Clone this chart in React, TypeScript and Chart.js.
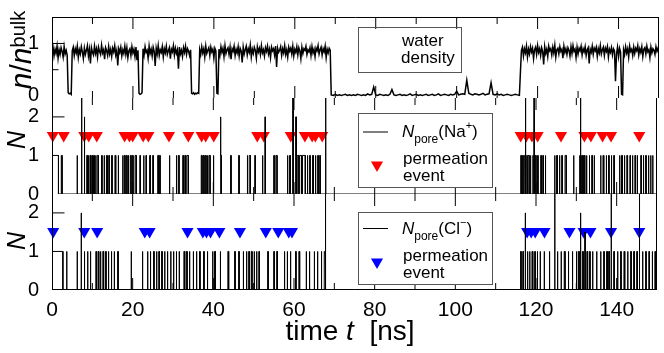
import React, { useEffect, useRef } from "react";
import { Chart, registerables } from "chart.js";

Chart.register(...registerables);

const FONT = "'Liberation Sans', Helvetica, Arial, sans-serif";

// ---------- axes ----------
const TIME_MIN = 0;
const TIME_MAX = 150;
const timeTicks = [0, 20, 40, 60, 80, 100, 120, 140];
const densityTicks = [0, 1];
const countTicks = [0, 1, 2];

// ---------- water density n/n_bulk : segments [start ns, sampling step ns, values] ----------
const densityA = [0.84, 0.93, 0.76, 0.89, 0.81, 0.95, 0.72, 0.88, 0.79, 0.92, 0.85, 0.74, 0.94, 0.8, 0.87, 0.78];
const densityDip1 = [0.06, 0.04, 0.05, 0.03];
const densityB = [
  0.86, 0.93, 0.77, 0.9, 0.82, 0.95, 0.73, 0.88, 0.8, 0.94,
  0.84, 0.71, 0.91, 0.79, 0.87, 0.96, 0.76, 0.89, 0.62, 0.92,
  0.83, 0.78, 0.95, 0.81, 0.9, 0.74, 0.93, 0.85, 0.79, 0.97,
  0.82, 0.88, 0.7, 0.92, 0.86, 0.77, 0.94, 0.8, 0.89, 0.75,
  0.91, 0.84, 0.96, 0.78, 0.87, 0.58, 0.9, 0.83, 0.93, 0.76,
  0.88, 0.81, 0.95, 0.79, 0.92, 0.73, 0.86, 0.9, 0.77, 0.94,
  0.82, 0.89, 0.75, 0.93, 0.68, 0.87,
];
const densityDip2 = [0.05, 0.03, 0.04, 0.06];
const densityC = [
  0.9, 0.78, 0.94, 0.83, 0.87, 0.72, 0.95, 0.81, 0.89, 0.76,
  0.93, 0.85, 0.57, 0.91, 0.8, 0.96, 0.77, 0.88, 0.83, 0.94,
  0.74, 0.9, 0.82, 0.95, 0.79, 0.86, 0.92, 0.71, 0.89, 0.84,
  0.96, 0.78, 0.91, 0.81, 0.88, 0.52, 0.93, 0.8, 0.87, 0.75,
  0.92, 0.83, 0.95, 0.79, 0.9, 0.85, 0.77, 0.88,
];
const densityDip3 = [0.05, 0.04, 0.06, 0.03, 0.05, 0.04, 0.06, 0.05];
const densityD = [0.88, 0.79, 0.94, 0.82, 0.9, 0.74, 0.95, 0.81, 0.87, 0.92, 0.77, 0.93, 0.84, 0.89, 0.72, 0.91, 0.86];
const densityDip4 = [0.05, 0.04];
const densityE = [
  0.89, 0.78, 0.94, 0.83, 0.91, 0.75, 0.96, 0.81, 0.88, 0.92,
  0.79, 0.93, 0.7, 0.9, 0.85, 0.95, 0.77, 0.89, 0.82, 0.94,
  0.76, 0.91, 0.86, 0.64, 0.93, 0.8, 0.88, 0.95, 0.78, 0.9,
  0.83, 0.97, 0.74, 0.89, 0.81, 0.93, 0.87, 0.72, 0.94, 0.84,
  0.91, 0.79, 0.96, 0.82, 0.88, 0.76, 0.92, 0.85, 0.95, 0.8,
  0.89, 0.73, 0.93, 0.86, 0.9, 0.78, 0.95, 0.55, 0.91, 0.83,
  0.87, 0.94, 0.77, 0.9, 0.82, 0.96, 0.79, 0.88, 0.74, 0.93,
  0.85, 0.91, 0.8, 0.95, 0.76, 0.89, 0.83, 0.94, 0.78, 0.92,
  0.86, 0.71, 0.93, 0.81, 0.9, 0.87, 0.95, 0.79, 0.88, 0.84,
  0.92, 0.77, 0.94, 0.82, 0.89, 0.75, 0.91, 0.86, 0.96, 0.8,
  0.88, 0.93, 0.78, 0.9, 0.84, 0.95, 0.73, 0.89, 0.82, 0.91,
  0.87,
];
const densityLow = [
  0.02, 0.01, 0.03, 0.01, 0.02, 0.01, 0.02, 0.03, 0.01, 0.02,
  0.01, 0.02, 0.01, 0.03, 0.02, 0.01, 0.02, 0.01, 0.04, 0.02,
  0.03, 0.17, 0.02, 0.01, 0.03, 0.02, 0.01, 0.02, 0.01, 0.03,
  0.12, 0.02, 0.01, 0.02, 0.03, 0.01, 0.02, 0.01, 0.02, 0.04,
  0.01, 0.02, 0.03, 0.01, 0.02, 0.01, 0.02, 0.03, 0.01, 0.02,
  0.03, 0.01, 0.02, 0.04, 0.01, 0.02, 0.03, 0.02, 0.01, 0.03,
  0.02, 0.03, 0.09, 0.02, 0.03, 0.04, 0.03, 0.3, 0.05, 0.03,
  0.02, 0.04, 0.03, 0.02, 0.03, 0.05, 0.02, 0.03, 0.04, 0.25,
  0.03, 0.02, 0.04, 0.02, 0.03, 0.01, 0.02, 0.03, 0.02, 0.01,
  0.02, 0.03, 0.02, 0.01,
];
const densityF = [
  0.87, 0.93, 0.76, 0.9, 0.82, 0.95, 0.74, 0.89, 0.8, 0.94,
  0.84, 0.91, 0.71, 0.88, 0.93, 0.79, 0.96, 0.83, 0.9, 0.77,
  0.92, 0.85, 0.6, 0.94, 0.81, 0.89, 0.75, 0.95, 0.86, 0.9,
  0.78, 0.93, 0.82, 0.97, 0.74, 0.88, 0.91, 0.8, 0.94, 0.85,
  0.89, 0.72, 0.95, 0.83, 0.9, 0.79, 0.92, 0.87, 0.76, 0.94,
  0.81, 0.96, 0.85, 0.89, 0.73, 0.93, 0.8, 0.91, 0.86, 0.95,
  0.78, 0.9, 0.84, 0.94, 0.77, 0.88, 0.92, 0.62, 0.89, 0.83,
  0.95, 0.79, 0.91, 0.86, 0.93, 0.75, 0.9, 0.82, 0.96, 0.8,
  0.88, 0.93, 0.77, 0.91, 0.85, 0.94, 0.74, 0.89, 0.83, 0.92,
  0.78, 0.9, 0.86, 0.28, 0.8, 0.93, 0.75, 0.91, 0.84,
];
const densityDip5 = [0.03, 0.02];
const densityG = [
  0.88, 0.79, 0.94, 0.82, 0.9, 0.74, 0.95, 0.85, 0.89, 0.77,
  0.93, 0.81, 0.91, 0.86, 0.96, 0.78, 0.9, 0.83, 0.94, 0.75,
  0.89, 0.92, 0.8, 0.95, 0.84, 0.88, 0.73, 0.93, 0.82, 0.9,
  0.87, 0.79, 0.94, 0.85, 0.91, 0.81,
];
const densitySegments: [number, number, number[]][] = [
  [0, 0.25, densityA], [4.0, 0.25, densityDip1], [5.0, 0.25, densityB], [21.5, 0.25, densityDip2],
  [22.5, 0.25, densityC], [34.5, 0.25, densityDip3], [36.5, 0.25, densityD], [40.75, 0.25, densityDip4],
  [41.25, 0.25, densityE], [69.0, 0.5, densityLow], [116.0, 0.25, densityF], [140.75, 0.25, densityDip5],
  [141.25, 0.25, densityG],
];

// ---------- N_pore(Na+) : [start ns, end ns, N] ----------
const naPulses: [number, number, number][] = [
  [0, 1.6, 1], [2.3, 2.5, 1], [6.2, 6.3, 1], [7.3, 7.4, 2.5], [8.0, 8.1, 2], [8.6, 8.8, 1], [9.0, 9.1, 1], [9.4, 9.6, 1], [9.9, 10.0, 1], [10.3, 10.5, 1], [10.8, 10.9, 1], [11.2, 11.5, 1], [12.3, 12.4, 1], [12.9, 13.0, 1], [13.5, 13.7, 1], [14.1, 14.2, 1], [14.8, 14.9, 1], [15.6, 15.8, 1], [16.4, 16.5, 1], [17.5, 17.6, 1], [17.9, 18.1, 1], [18.4, 18.6, 1], [18.9, 19.0, 1], [19.4, 19.6, 1], [19.9, 20.1, 1], [20.6, 20.9, 1], [21.8, 21.9, 1], [22.7, 22.8, 1], [23.3, 23.4, 1], [24.2, 24.4, 1], [25.0, 25.1, 1], [26.2, 26.4, 1], [26.7, 26.8, 1], [29.1, 29.2, 1], [30.8, 30.9, 1], [31.3, 31.5, 1], [32.4, 32.6, 1], [32.9, 33.1, 1], [33.4, 33.8, 1], [37.0, 37.2, 1], [37.5, 37.7, 1], [38.0, 38.2, 1], [38.5, 38.6, 1], [38.9, 39.2, 1], [40.0, 40.1, 1], [41.7, 41.8, 2], [41.9, 42.0, 1], [44.3, 44.4, 1], [46.3, 46.4, 1], [48.4, 48.5, 1], [48.9, 49.2, 1], [50.3, 50.4, 1], [52.1, 52.3, 1], [52.8, 52.9, 2], [55.0, 55.1, 1], [55.5, 55.8, 1], [58.3, 58.5, 1], [58.9, 59.1, 1], [59.7, 59.8, 2.5], [60.4, 60.6, 2], [60.8, 61.2, 1], [61.4, 61.9, 1], [62.1, 62.8, 1], [63.3, 63.4, 1], [63.9, 64.0, 1], [64.6, 64.8, 1], [65.3, 65.4, 1], [65.9, 66.0, 1], [66.4, 66.5, 1], [67.8, 67.9, 2.5],
  [116.2, 116.4, 1], [116.7, 116.8, 1], [117.1, 117.3, 1], [117.4, 117.5, 2.5], [117.7, 117.8, 1], [118.0, 118.3, 1], [118.6, 118.7, 1], [119.2, 119.4, 1], [119.5, 119.6, 2.5], [119.8, 120.0, 1], [120.4, 120.5, 1], [121.2, 121.3, 1], [121.7, 121.8, 1], [122.3, 122.4, 1], [124.6, 124.7, 1], [125.1, 125.3, 1], [125.8, 125.9, 1], [126.4, 126.5, 1], [127.2, 127.5, 1], [129.3, 129.4, 1], [130.8, 130.9, 1], [131.0, 131.1, 2.5], [131.3, 131.6, 1], [131.8, 132.1, 1], [132.5, 132.6, 1], [133.2, 133.3, 1], [133.8, 134.0, 1], [134.4, 134.5, 1], [136.0, 136.1, 1], [136.6, 136.8, 1], [137.4, 137.5, 1], [138.0, 138.1, 1], [138.6, 138.8, 1], [139.3, 139.4, 1], [140.7, 140.8, 1], [141.2, 141.4, 1], [141.9, 142.0, 1], [142.5, 142.7, 1], [143.3, 143.4, 1], [143.9, 144.0, 1], [144.5, 144.7, 1], [145.1, 145.2, 1], [146.0, 146.1, 1], [146.6, 146.7, 1], [147.2, 147.3, 1], [147.8, 148.0, 1], [148.4, 148.5, 1], [148.9, 149.0, 1],
];
const naPermeationTimes = [0.2, 2.9, 8.0, 9.1, 11.1, 18.0, 19.2, 20.0, 22.6, 23.9, 29.0, 33.8, 37.1, 38.1, 40.1, 50.9, 52.5, 59.2, 62.7, 64.5, 65.3, 67.0, 116.2, 117.6, 119.0, 120.4, 126.2, 132.0, 133.6, 136.5, 138.6, 145.6];

// ---------- N_pore(Cl-) ----------
const clPulses: [number, number, number][] = [
  [0, 2.7, 1], [3.6, 3.7, 1], [6.2, 6.3, 1], [7.2, 7.3, 2], [8.0, 8.1, 1], [8.8, 8.9, 1], [9.5, 9.6, 1], [10.9, 11.0, 1], [11.4, 11.6, 1], [12.0, 12.1, 1], [12.6, 12.8, 1], [13.3, 13.4, 1], [13.9, 14.1, 1], [14.7, 14.8, 1], [15.4, 15.5, 1], [16.3, 16.4, 1], [19.6, 19.7, 1], [22.4, 22.5, 1], [23.6, 23.8, 1], [24.3, 24.5, 1], [25.2, 25.3, 1], [25.9, 26.0, 1], [26.5, 26.6, 1], [27.2, 27.3, 1], [27.9, 28.0, 1], [28.6, 28.7, 1], [29.4, 29.5, 1], [30.1, 30.2, 1], [30.8, 30.9, 1], [31.5, 31.6, 1], [32.7, 32.9, 1], [33.3, 33.5, 1], [34.0, 34.2, 1], [35.0, 35.1, 1], [35.8, 35.9, 1], [36.6, 36.7, 1], [37.6, 37.7, 1], [38.5, 38.6, 1], [39.8, 39.9, 1], [40.3, 40.5, 1], [41.7, 41.8, 1], [43.6, 43.8, 1], [45.3, 45.4, 1], [46.3, 46.4, 1], [47.4, 47.5, 1], [48.2, 48.3, 1], [48.8, 48.9, 1], [49.4, 49.6, 1], [50.1, 50.2, 1], [50.7, 50.8, 1], [51.3, 51.4, 1], [53.5, 53.6, 1], [55.0, 55.1, 1], [55.7, 55.9, 1], [57.6, 57.7, 1], [58.3, 58.4, 1], [59.1, 59.2, 1], [60.4, 60.5, 1], [61.2, 61.4, 1], [63.0, 63.1, 1], [63.8, 63.9, 1], [65.0, 65.1, 1], [65.8, 65.9, 1], [66.7, 66.9, 1], [67.5, 67.7, 1], [67.8, 67.9, 2.5],
  [116.2, 116.3, 1], [116.7, 116.9, 1], [117.3, 117.4, 2], [117.8, 118.0, 1], [118.4, 118.5, 1], [119.0, 119.2, 1], [119.7, 119.8, 1], [120.3, 120.4, 1], [121.0, 121.1, 1], [122.0, 122.1, 1], [123.3, 123.4, 1], [124.6, 124.7, 2.5], [125.3, 125.4, 1], [126.2, 126.3, 1], [127.0, 127.2, 1], [128.0, 128.1, 1], [129.0, 129.1, 1], [130.0, 130.1, 1], [130.5, 130.7, 1], [131.0, 131.1, 2], [131.5, 131.7, 1], [132.1, 132.2, 1.5], [132.6, 132.8, 1], [133.3, 133.4, 1], [134.0, 134.1, 1], [135.0, 135.1, 1], [136.0, 136.1, 1], [136.8, 136.9, 1], [137.5, 137.7, 1], [138.0, 138.2, 1], [138.6, 138.7, 2.5], [139.3, 139.4, 1], [140.2, 140.3, 1], [141.0, 141.1, 1], [141.8, 142.0, 1], [142.7, 142.8, 1], [143.5, 143.6, 1], [144.2, 144.4, 1], [145.0, 145.1, 1], [145.6, 145.7, 2.5], [146.4, 146.5, 1], [147.2, 147.3, 1], [148.0, 148.1, 1], [148.8, 148.9, 1], [149.5, 149.6, 1],
];
const clPermeationTimes = [0.3, 8.0, 11.2, 23.0, 24.2, 33.6, 37.4, 38.3, 39.3, 41.5, 46.6, 53.0, 56.1, 58.7, 59.5, 117.8, 118.8, 119.8, 122.1, 128.3, 131.8, 133.5, 138.6, 145.6];
const PERMEATION_LEVEL = 1.52;

// ---------- helpers ----------
type Pt = { x: number; y: number };
function densityPoints(): Pt[] {
  const pts: Pt[] = [];
  for (const [start, step, vals] of densitySegments) {
    vals.forEach((v, i) => pts.push({ x: start + i * step, y: v }));
  }
  return pts;
}
function pulseTrace(pulses: [number, number, number][]): Pt[] {
  const pts: Pt[] = [{ x: TIME_MIN, y: 0 }];
  for (const [s, e, n] of pulses) {
    pts.push({ x: s, y: 0 }, { x: s, y: n }, { x: e, y: n }, { x: e, y: 0 });
  }
  pts.push({ x: TIME_MAX, y: 0 });
  return pts;
}

type Part = { t: string; f: string; dy?: number };
function richWidth(ctx: CanvasRenderingContext2D, parts: Part[]) {
  let w = 0;
  for (const p of parts) { ctx.font = p.f; w += ctx.measureText(p.t).width; }
  return w;
}
function drawRich(ctx: CanvasRenderingContext2D, parts: Part[], x: number, y: number) {
  ctx.textAlign = "left";
  ctx.textBaseline = "alphabetic";
  let cx = x;
  for (const p of parts) {
    ctx.font = p.f;
    ctx.fillText(p.t, cx, y + (p.dy || 0));
    cx += ctx.measureText(p.t).width;
  }
}
function drawRotatedRich(ctx: CanvasRenderingContext2D, parts: Part[], baseX: number, cy: number) {
  ctx.save();
  ctx.translate(baseX, cy);
  ctx.rotate(-Math.PI / 2);
  const w = richWidth(ctx, parts);
  drawRich(ctx, parts, -w / 2, 0);
  ctx.restore();
}
function downTriangle(ctx: CanvasRenderingContext2D, x: number, y: number, r: number, color: string) {
  ctx.beginPath();
  ctx.moveTo(x, y + r);
  ctx.lineTo(x - r * 0.866, y - r / 2);
  ctx.lineTo(x + r * 0.866, y - r / 2);
  ctx.closePath();
  ctx.fillStyle = color;
  ctx.fill();
}

function drawFrameAndTicks(chart: any, opts: { top: boolean; bottom: boolean; yMajor: number[]; yMinor: number[] }) {
  const { ctx, chartArea } = chart;
  const xs = chart.scales.x;
  const ys = chart.scales.y;
  const L = Math.round(chartArea.left) + 0.5;
  const R = Math.round(chartArea.right) - 0.5;
  const T = chartArea.top;
  const B = chartArea.bottom;
  ctx.save();
  ctx.strokeStyle = "#000";
  ctx.lineWidth = 1;
  ctx.beginPath();
  ctx.moveTo(L, T); ctx.lineTo(L, B);
  ctx.moveTo(R, T); ctx.lineTo(R, B);
  if (opts.top) { ctx.moveTo(L, Math.round(T) + 0.5); ctx.lineTo(R, Math.round(T) + 0.5); }
  if (opts.bottom) { ctx.moveTo(L, Math.round(B) - 0.5); ctx.lineTo(R, Math.round(B) - 0.5); }
  ctx.stroke();
  ctx.beginPath();
  for (let t = TIME_MIN + 10; t < TIME_MAX; t += 10) {
    const px = xs.getPixelForValue(t);
    const len = t % 20 === 0 ? 12 : 7;
    ctx.moveTo(px, T); ctx.lineTo(px, T + len);
    ctx.moveTo(px, B); ctx.lineTo(px, B - len);
  }
  for (const v of opts.yMajor) {
    const py = ys.getPixelForValue(v);
    ctx.moveTo(L, py); ctx.lineTo(L + 12, py);
  }
  for (const v of opts.yMinor) {
    const py = ys.getPixelForValue(v);
    ctx.moveTo(L, py); ctx.lineTo(L + 6, py);
  }
  ctx.stroke();
  ctx.restore();
}

function yScale(min: number, max: number, ticks: number[]) {
  return {
    type: "linear" as const,
    position: "left" as const,
    min,
    max,
    grid: { display: false },
    border: { display: false },
    afterBuildTicks: (s: any) => { s.ticks = ticks.map((v) => ({ value: v })); },
    afterFit: (s: any) => { s.width = 52; },
    ticks: { color: "#000", padding: 5, font: { family: FONT, size: 20 }, callback: (v: any) => String(v) },
  };
}
function xScale(show: boolean) {
  return {
    type: "linear" as const,
    position: "bottom" as const,
    min: TIME_MIN,
    max: TIME_MAX,
    display: show,
    grid: { display: false },
    border: { display: false },
    afterBuildTicks: (s: any) => { s.ticks = timeTicks.map((v) => ({ value: v })); },
    afterFit: (s: any) => { if (show) s.height = 63; },
    ticks: { color: "#000", padding: 0, maxRotation: 0, autoSkip: false, font: { family: FONT, size: 21 }, callback: (v: any) => String(v) },
  };
}

const baseOptions = (padTop: number, padBottom: number, showX: boolean, yMin: number, yMax: number, yTicks: number[]) => ({
  responsive: false,
  animation: false as const,
  devicePixelRatio: 1,
  layout: { padding: { left: 0, right: 5, top: padTop, bottom: padBottom } },
  plugins: { legend: { display: false }, tooltip: { enabled: false } },
  events: [],
  scales: { x: xScale(showX), y: yScale(yMin, yMax, yTicks) },
});

function ionLegend(ctx: CanvasRenderingContext2D, top: number, bottom: number, lineY: number, ion: Part[], trisY: number, color: string) {
  ctx.save();
  ctx.fillStyle = "#fff";
  ctx.fillRect(358, top, 135, bottom - top);
  ctx.strokeStyle = "#555";
  ctx.lineWidth = 1;
  ctx.strokeRect(358.5, top + 0.5, 134, bottom - top);
  ctx.strokeStyle = "#000";
  ctx.beginPath();
  ctx.moveTo(363, lineY); ctx.lineTo(388, lineY);
  ctx.stroke();
  ctx.fillStyle = "#000";
  drawRich(ctx, ion, 402, lineY + 5);
  downTriangle(ctx, 377, trisY - 1, 7, color);
  ctx.fillStyle = "#000";
  ctx.font = `17px ${FONT}`;
  ctx.fillText("permeation", 403, trisY - 2);
  ctx.fillText("event", 403, trisY + 15);
  ctx.restore();
}

export default function App() {
  const c1 = useRef<HTMLCanvasElement>(null);
  const c2 = useRef<HTMLCanvasElement>(null);
  const c3 = useRef<HTMLCanvasElement>(null);

  useEffect(() => {
    const densityChart = new Chart(c1.current as HTMLCanvasElement, {
      type: "line",
      data: {
        datasets: [
          { data: densityPoints(), borderColor: "#000", borderWidth: 1.5, pointRadius: 0, tension: 0, fill: false },
        ],
      },
      options: baseOptions(3, 255, false, -0.04, 1.505, densityTicks) as any,
      plugins: [
        {
          id: "densityDecor",
          afterDraw(chart: any) {
            const ctx = chart.ctx as CanvasRenderingContext2D;
            drawFrameAndTicks(chart, { top: true, bottom: false, yMajor: [1], yMinor: [0.5] });
            ctx.save();
            ctx.fillStyle = "#000";
            drawRotatedRich(ctx, [
              { t: "n", f: `italic 30px ${FONT}` },
              { t: "/", f: `30px ${FONT}` },
              { t: "n", f: `italic 30px ${FONT}` },
              { t: "bulk", f: `20px ${FONT}`, dy: -6 },
            ], 31, 50);
            ctx.strokeStyle = "#555";
            ctx.lineWidth = 1;
            ctx.strokeRect(358.5, 27.5, 103, 45);
            ctx.font = `17px ${FONT}`;
            ctx.fillStyle = "#000";
            ctx.textAlign = "left";
            ctx.fillText("water", 402, 46);
            ctx.fillText("density", 401, 63);
            ctx.restore();
          },
        },
      ],
    });

    const naChart = new Chart(c2.current as HTMLCanvasElement, {
      type: "line",
      data: {
        datasets: [
          { data: pulseTrace(naPulses), borderColor: "#000", borderWidth: 1, pointRadius: 0, tension: 0, fill: false },
          {
            data: naPermeationTimes.map((t) => ({ x: t, y: PERMEATION_LEVEL })),
            showLine: false, pointStyle: "triangle", rotation: 180, pointRadius: 7,
            pointBackgroundColor: "#ff0000", pointBorderWidth: 0, pointBorderColor: "#ff0000", clip: false,
          } as any,
        ],
      },
      options: baseOptions(98, 159, false, 0, 2.49, countTicks) as any,
      plugins: [
        {
          id: "naDecor",
          afterDraw(chart: any) {
            const ctx = chart.ctx as CanvasRenderingContext2D;
            drawFrameAndTicks(chart, { top: false, bottom: false, yMajor: [2], yMinor: [] });
            ctx.save();
            ctx.fillStyle = "#000";
            drawRotatedRich(ctx, [{ t: "N", f: `italic 25px ${FONT}` }], 25, 140);
            ionLegend(ctx, 113, 187, 132, [
              { t: "N", f: `italic 17px ${FONT}` },
              { t: "pore", f: `12px ${FONT}`, dy: 6 },
              { t: "(Na", f: `17px ${FONT}` },
              { t: "+", f: `11px ${FONT}`, dy: -8 },
              { t: ")", f: `17px ${FONT}` },
            ], 166, "#ff0000");
            ctx.restore();
          },
        },
      ],
    });

    const clChart = new Chart(c3.current as HTMLCanvasElement, {
      type: "line",
      data: {
        datasets: [
          { data: pulseTrace(clPulses), borderColor: "#000", borderWidth: 1, pointRadius: 0, tension: 0, fill: false },
          {
            data: clPermeationTimes.map((t) => ({ x: t, y: PERMEATION_LEVEL })),
            showLine: false, pointStyle: "triangle", rotation: 180, pointRadius: 7,
            pointBackgroundColor: "#0000ff", pointBorderWidth: 0, pointBorderColor: "#0000ff", clip: false,
          } as any,
        ],
      },
      options: baseOptions(194, 0, true, 0, 2.49, countTicks) as any,
      plugins: [
        {
          id: "clDecor",
          afterDraw(chart: any) {
            const ctx = chart.ctx as CanvasRenderingContext2D;
            drawFrameAndTicks(chart, { top: false, bottom: true, yMajor: [2], yMinor: [] });
            ctx.save();
            ctx.fillStyle = "#000";
            drawRotatedRich(ctx, [{ t: "N", f: `italic 25px ${FONT}` }], 25, 241);
            ionLegend(ctx, 212, 284, 228.5, [
              { t: "N", f: `italic 17px ${FONT}` },
              { t: "pore", f: `12px ${FONT}`, dy: 6 },
              { t: "(Cl", f: `17px ${FONT}` },
              { t: "\u2212", f: `11px ${FONT}`, dy: -8 },
              { t: ")", f: `17px ${FONT}` },
            ], 263, "#0000ff");
            const parts: Part[] = [
              { t: "time ", f: `28px ${FONT}` },
              { t: "t", f: `italic 28px ${FONT}` },
              { t: "  [ns]", f: `28px ${FONT}` },
            ];
            const w = richWidth(ctx, parts);
            ctx.fillStyle = "#000";
            drawRich(ctx, parts, 350 - w / 2, 340);
            ctx.restore();
          },
        },
      ],
    });

    return () => {
      densityChart.destroy();
      naChart.destroy();
      clChart.destroy();
    };
  }, []);

  const cs: React.CSSProperties = { position: "absolute", left: 0, top: 0 };
  return (
    <div style={{ position: "fixed", left: 0, top: 0, width: 664, height: 353, background: "#fff", overflow: "hidden" }}>
      <canvas ref={c1} width={664} height={353} style={cs} />
      <canvas ref={c2} width={664} height={353} style={cs} />
      <canvas ref={c3} width={664} height={353} style={cs} />
    </div>
  );
}
